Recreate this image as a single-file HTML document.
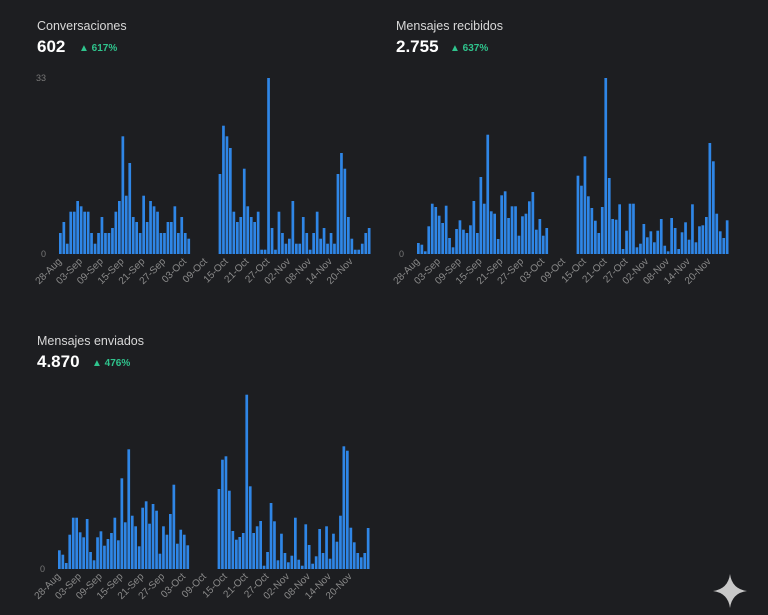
<!DOCTYPE html>
<html><head><meta charset="utf-8"><style>
html,body{margin:0;padding:0;background:#1d1e21;width:768px;height:615px;overflow:hidden;font-family:"Liberation Sans",sans-serif}
.t{position:absolute;color:#d8d8d8;font-size:12.5px}
.n{position:absolute;color:#fff;font-size:17px;font-weight:bold}
.b{position:absolute;color:#2fc48d;font-size:10px;font-weight:bold}
</style></head><body>
<div class="t" style="left:37px;top:19px">Conversaciones</div>
<div class="n" style="left:37px;top:37px">602</div>
<div class="b" style="left:79px;top:43px">▲ 617%</div>
<div class="t" style="left:396px;top:19px">Mensajes recibidos</div>
<div class="n" style="left:396px;top:37px">2.755</div>
<div class="b" style="left:450px;top:43px">▲ 637%</div>
<div class="t" style="left:37px;top:334px">Mensajes enviados</div>
<div class="n" style="left:37px;top:352px">4.870</div>
<div class="b" style="left:92px;top:358px">▲ 476%</div>
<svg id="s" width="768" height="615" style="position:absolute;left:0;top:0"></svg>
<script>
const s=document.getElementById('s');let h='';
const labels=['28-Aug','03-Sep','09-Sep','15-Sep','21-Sep','27-Sep','03-Oct','09-Oct','15-Oct','21-Oct','27-Oct','02-Nov','08-Nov','14-Nov','20-Nov'];
function chart(x0,base,zb,a,b,ymax){
 const p=3.47;
 a.forEach((t,i)=>{const hh=(zb-t)/3;h+=`<rect x="${(x0+i*p).toFixed(1)}" y="${(base-hh).toFixed(1)}" width="2.7" height="${hh.toFixed(1)}" fill="#2f86e6"/>`});
 b.forEach((t,i)=>{const hh=(zb-t)/3;h+=`<rect x="${(x0+(46+i)*p).toFixed(1)}" y="${(base-hh).toFixed(1)}" width="2.7" height="${hh.toFixed(1)}" fill="#2f86e6"/>`});
 h+=`<text x="${x0-13}" y="${base+3}" fill="#777" font-size="9" text-anchor="end">0</text>`;
 if(ymax)h+=`<text x="${x0-13}" y="${base-173}" fill="#777" font-size="9" text-anchor="end">${ymax}</text>`;
 labels.forEach((l,i)=>{const x=x0+i*6*p+3,y=base+8;h+=`<text transform="translate(${x},${y}) rotate(-45)" fill="#8a8a8a" font-size="10" text-anchor="end">${l}</text>`});
}
chart(59,254,583,[520,487,552,456,456,424,440,456,456,520,552,520,472,520,520,505,456,424,230,408,310,472,487,520,408,487,424,440,456,520,520,487,487,440,520,472,520,537],
[343,198,230,265,456,487,472,327,440,472,487,456,570,570,55,505,570,456,520,552,537,424,552,552,472,520,570,520,456,537,505,552,520,552,343,280,327,472,537,570,570,552,520,505],33);
chart(417,254,583,[550,555,575,500,432,442,468,490,438,535,563,508,482,510,520,497,424,520,352,432,225,455,462,538,407,395,475,440,440,528,470,462,425,397,510,478,528,505],
[348,378,290,410,445,483,520,442,55,355,478,480,434,568,513,432,432,563,552,493,533,515,548,513,478,558,575,475,505,568,518,488,540,434,548,500,497,472,250,305,462,515,535,482]);
chart(58,569,568,[512,525,550,465,414,414,458,473,418,517,542,473,455,498,478,460,414,482,296,428,209,408,440,500,384,365,432,373,393,522,440,465,403,315,492,450,465,497],
[328,240,230,333,454,480,472,460,45,320,460,440,424,558,517,370,425,542,462,520,548,528,414,540,558,434,496,552,530,448,520,440,537,462,486,408,200,213,444,488,520,533,520,445]);
h+=`<path d="M730 574 Q732 589 747 591 Q732 593 730 608 Q728 593 713 591 Q728 589 730 574Z" fill="#c8c8c8"/>`;
s.innerHTML=h;
</script>
</body></html>
